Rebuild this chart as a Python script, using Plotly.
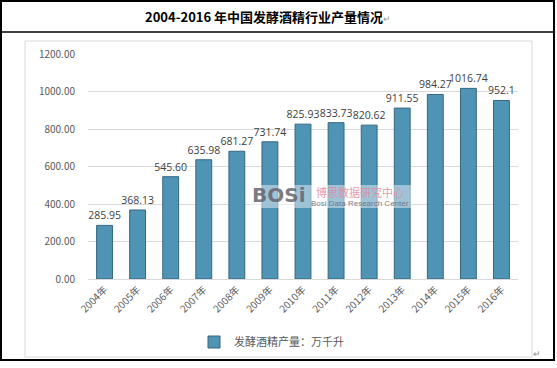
import plotly.graph_objects as go

years = ["2004年", "2005年", "2006年", "2007年", "2008年", "2009年", "2010年",
         "2011年", "2012年", "2013年", "2014年", "2015年", "2016年"]
output = [285.95, 368.13, 545.60, 635.98, 681.27, 731.74, 825.93,
          833.73, 820.62, 911.55, 984.27, 1016.74, 952.1]
labels = ["285.95", "368.13", "545.60", "635.98", "681.27", "731.74", "825.93",
          "833.73", "820.62", "911.55", "984.27", "1016.74", "952.1"]
series_name = "发酵酒精产量：万千升"
title_text = "2004-2016 年中国发酵酒精行业产量情况"

W, H = 557, 368
L, R, T, B = 88, 518, 54, 279  # plot area in pixels


def px(x):
    return (x - L) / (R - L)


def py(y):
    return (B - y) / (B - T)


FONT = "Noto Sans CJK SC, Microsoft YaHei, sans-serif"

fig = go.Figure()
fig.add_trace(go.Bar(
    x=years, y=output, name=series_name,
    text=labels, textposition="outside", cliponaxis=False, constraintext="none",
    textfont=dict(size=10.5, color="#404040", family="Open Sans, Noto Sans, sans-serif"),
    marker=dict(color="#4F93B5", line=dict(color="#35677F", width=1)),
    width=0.48,
))

fig.update_layout(
    width=W, height=H,
    margin=dict(l=L, r=W - R, t=T, b=H - B),
    paper_bgcolor="white", plot_bgcolor="white",
    font=dict(family=FONT, color="#595959"),
    showlegend=True,
    legend=dict(orientation="h", x=px(194), xanchor="left", y=py(342), yanchor="middle",
                font=dict(size=11, color="#595959"), bgcolor="rgba(0,0,0,0)"),
    xaxis=dict(tickangle=-45, tickfont=dict(size=10, color="#595959"),
               showline=True, linecolor="#D9D9D9", ticks="", showgrid=False),
    yaxis=dict(range=[0, 1200], dtick=200, tickformat=".2f",
               tickfont=dict(size=10, color="#595959"),
               gridcolor="#D9D9D9", gridwidth=1, zeroline=False, ticks="",
               ticklabelstandoff=12),
    bargap=0.52,
)

shapes = [
    # outer black frame
    dict(type="rect", xref="paper", yref="paper", x0=px(1), x1=px(554), y0=py(1), y1=py(360),
         line=dict(color="black", width=2), layer="below"),
    # title divider
    dict(type="line", xref="paper", yref="paper", x0=px(1), x1=px(554), y0=py(32), y1=py(32),
         line=dict(color="black", width=1.5)),
    # inner chart frame
    dict(type="rect", xref="paper", yref="paper", x0=px(25), x1=px(532), y0=py(41), y1=py(357),
         line=dict(color="#D9D9D9", width=1), layer="below"),
    # watermark backdrop
    dict(type="rect", xref="paper", yref="paper", x0=px(249), x1=px(412), y0=py(185), y1=py(208),
         fillcolor="rgba(255,255,255,0.45)", line=dict(width=0), layer="above"),
]
fig.update_layout(shapes=shapes)

annotations = [
    dict(text="<b>" + title_text + "</b><span style='font-size:9px;color:#999'>↵</span>",
         xref="paper", yref="paper", x=px(268), y=py(16), showarrow=False,
         xanchor="center", yanchor="middle", font=dict(size=13, color="black", family=FONT)),
    dict(text="↵", xref="paper", yref="paper", x=px(537), y=py(353), showarrow=False,
         xanchor="center", yanchor="middle", font=dict(size=9, color="#888")),
    dict(text="<b>BOSi</b>", xref="paper", yref="paper", x=px(279), y=py(195), showarrow=False,
         xanchor="center", yanchor="middle",
         font=dict(size=20, color="rgba(100,100,110,0.85)", family="DejaVu Sans")),
    dict(text="博思数据研究中心", xref="paper", yref="paper", x=px(360), y=py(192), showarrow=False,
         xanchor="center", yanchor="middle", font=dict(size=11, color="rgba(225,140,165,0.9)")),
    dict(text="Bosi Data Research Center", xref="paper", yref="paper", x=px(360), y=py(203.5),
         showarrow=False, xanchor="center", yanchor="middle",
         font=dict(size=8, color="rgba(100,100,110,0.85)", family="Liberation Sans Narrow, Liberation Sans")),
]
fig.update_layout(annotations=annotations)

fig.write_html("out.html", config={"displayModeBar": False},
               post_script="document.body.style.margin='0';")
